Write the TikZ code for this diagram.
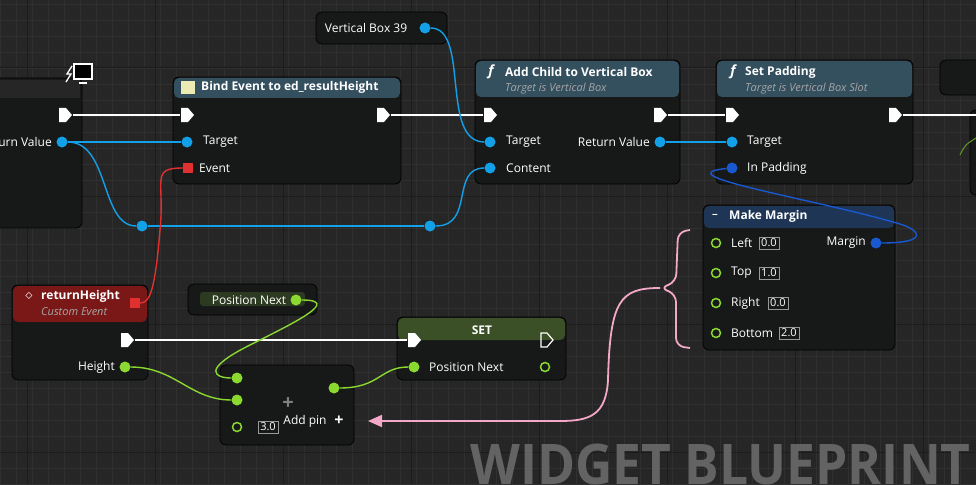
\documentclass[tikz,border=0pt]{standalone}
\usepackage{fontspec}
\setmainfont{Open Sans}
\usetikzlibrary{arrows.meta,decorations.pathreplacing,calc}
\definecolor{bg}{HTML}{262626}
\definecolor{minor}{HTML}{303030}
\definecolor{major}{HTML}{1C1C1C}
\definecolor{nodebg}{HTML}{171918}
\definecolor{wireblue}{HTML}{12A0E8}
\definecolor{darkblue}{HTML}{1858D0}
\definecolor{wgreen}{HTML}{8AD830}
\definecolor{wred}{HTML}{E03030}
\definecolor{pink}{HTML}{F4A8C8}
\definecolor{hdrblue}{HTML}{34505F}
\definecolor{hdrred}{HTML}{7A1818}
\definecolor{hdrgreen}{HTML}{3C5028}
\definecolor{hdrnavy}{HTML}{1E3556}
\begin{document}
\begin{tikzpicture}[x=1pt,y=-1pt,
  font=\fontsize{12}{13}\selectfont,
  bp/.style={fill=nodebg,draw=black,rounded corners=6pt,line width=0.8pt},
  lab/.style={text=white,inner sep=0pt},
  sub/.style={text=gray!70,font=\fontsize{11}{12}\itshape,inner sep=0pt},
  ttl/.style={text=white,font=\fontsize{12}{13}\bfseries,inner sep=0pt},
  bpin/.style={circle,fill=wireblue,inner sep=0pt,minimum size=11pt},
  dpin/.style={circle,fill=darkblue,inner sep=0pt,minimum size=11pt},
  gpin/.style={circle,fill=wgreen,inner sep=0pt,minimum size=11pt},
  hgpin/.style={circle,draw=wgreen,line width=1.5pt,inner sep=0pt,minimum size=9pt},
  rpin/.style={fill=wred,inner sep=0pt,minimum size=10pt},
  val/.style={draw=gray!80,text=white,inner sep=2pt,font=\fontsize{11}{12}\selectfont},
  exw/.style={white,line width=2.5pt},
  bw/.style={wireblue,line width=1.4pt},
  gw/.style={wgreen,line width=1.4pt}]
\useasboundingbox (0,0) rectangle (976,484);
\fill[bg] (0,0) rectangle (976,484);
\foreach \x in {0,16,...,976} \draw[minor,line width=0.8pt] (\x,0) -- (\x,484);
\foreach \y in {4,20,...,484} \draw[minor,line width=0.8pt] (0,\y) -- (976,\y);
\foreach \x in {27,155,...,976} \draw[major,line width=1pt] (\x,0) -- (\x,484);
\foreach \y in {68,196,...,484} \draw[major,line width=1pt] (0,\y) -- (976,\y);
\begin{scope}
\clip (0,0) rectangle (976,484);
\node[anchor=base west,text=white!28!bg,font=\fontsize{56}{56}\bfseries,inner sep=0pt,xscale=0.92] (wm) at (470,484) {WIDGET BLUEPRINT};
\end{scope}

% nodes bodies
\draw[bp] (-10,78) rectangle (82,228);
\fill[black!70!gray] (-10,80) rectangle (80,98);
\draw[white,line width=1.3pt] (72,66) -- (67,74) -- (71,74) -- (66,82);
\draw[white,fill=black,line width=1.3pt] (74,64) rectangle (92,79);
\draw[white,line width=1.5pt] (79,83) -- (87,83);
\draw[bp] (173,77) rectangle (401,184);
\fill[hdrblue,rounded corners=5pt] (174,78) rectangle (400,98);
\draw[bp] (316,12) rectangle (447,44);
\draw[bp] (475,60) rectangle (680,184);
\fill[hdrblue,rounded corners=5pt] (476,61) rectangle (679,97);
\draw[bp] (716,60) rectangle (913,184);
\fill[hdrblue,rounded corners=5pt] (717,61) rectangle (912,97);
\draw[bp] (940,60) rectangle (990,95);
\draw[bp] (970,110) rectangle (990,195);
\draw[bp] (703,205) rectangle (895,350);
\fill[hdrnavy,rounded corners=5pt] (704,206) rectangle (894,228);
\draw[bp] (12,285) rectangle (148,380);
\fill[hdrred,rounded corners=5pt] (13,286) rectangle (147,322);
\draw[bp] (188,284) rectangle (317,315);
\fill[hdrgreen!60!nodebg,rounded corners=3pt] (200,292) rectangle (305,306);
\draw[bp] (397,317) rectangle (566,380);
\fill[hdrgreen,rounded corners=5pt] (398,318) rectangle (565,340);
\draw[bp] (220,365) rectangle (354,445);

% exec pins
\foreach \n/\x/\y in {e1/65/115,e2/187/115,e3/383/115,e4/490/115,e5/660/115,e6/732/115,e7/895/115,e8/127/340,e9/414/340}
  {\fill[white] (\x-6,\y-7) -- (\x+1,\y-7) -- (\x+7,\y) -- (\x+1,\y+7) -- (\x-6,\y+7) -- cycle; \coordinate (\n) at (\x,\y);}
\draw[white,line width=1.2pt] (541,333) -- (547,333) -- (553,340) -- (547,347) -- (541,347) -- cycle;
\coordinate (e10) at (547,340);

% data pins
\node[bpin] (rv) at (62,142) {};
\node[bpin] (bt) at (187,142) {};
\node[rpin] (bev) at (188,168) {};
\node[bpin] (vb) at (425,28) {};
\node[bpin] (at) at (490,142) {};
\node[bpin] (ac) at (490,168) {};
\node[bpin] (arv) at (660,142) {};
\node[bpin] (st) at (732,142) {};
\node[dpin] (sp) at (732,168) {};
\node[dpin] (mm) at (876,243) {};
\node[bpin] (r1) at (142,226) {};
\node[bpin] (r2) at (430,226) {};
\node[rpin] (rdel) at (135,303) {};
\node[gpin] (hgt) at (125,367) {};
\node[gpin] (pn) at (296,300) {};
\node[gpin] (sin) at (414,367) {};
\node[hgpin] (sout) at (545,367) {};
\node[gpin] (a1) at (237,378) {};
\node[gpin] (a2) at (237,400) {};
\node[hgpin] (a3) at (237,427) {};
\node[gpin] (ao) at (334,388) {};
\foreach \n/\y in {ml/243,mt/273,mr/303,mb/333} \node[hgpin] (\n) at (716,\y) {};

% labels
\node[lab,anchor=east] (t1) at (52,142) {urn Value};
\node[ttl,anchor=west] (t2) at (201,87) {Bind Event to ed\_resultHeight};
\fill[gray!40!yellow!40] (181,81) rectangle (195,94);
\node[lab,anchor=west] (t3) at (203,142) {Target};
\node[lab,anchor=west] (t4) at (199,168) {Event};
\node[lab] (t5) at (366,28) {Vertical Box 39};
\node[ttl,anchor=west] (t6) at (505,72) {Add Child to Vertical Box};
\node[sub,anchor=west] (t7) at (505,89) {Target is Vertical Box};
\node[text=white,font=\fontsize{14}{14}\itshape\bfseries,inner sep=0pt] (f1) at (491,72) {f};
\node[lab,anchor=west] (t8) at (506,142) {Target};
\node[lab,anchor=west] (t9) at (506,168) {Content};
\node[lab,anchor=east] (t10) at (650,142) {Return Value};
\node[ttl,anchor=west] (t11) at (745,72) {Set Padding};
\node[sub,anchor=west] (t12) at (745,89) {Target is Vertical Box Slot};
\node[text=white,font=\fontsize{14}{14}\itshape\bfseries,inner sep=0pt] (f2) at (733,72) {f};
\node[lab,anchor=west] (t13) at (747,142) {Target};
\node[lab,anchor=west] (t14) at (747,168) {In Padding};
\node[ttl,anchor=west] (t15) at (729,216) {Make Margin};
\node[lab,font=\bfseries] (mic) at (715,216) {\textminus};
\node[lab,anchor=west] (t16) at (731,243) {Left};
\node[val,anchor=west] (v1) at (759,243) {0.0};
\node[lab,anchor=west] (t17) at (731,273) {Top};
\node[val,anchor=west] (v2) at (759,273) {1.0};
\node[lab,anchor=west] (t18) at (731,303) {Right};
\node[val,anchor=west] (v3) at (768,303) {0.0};
\node[lab,anchor=west] (t19) at (731,333) {Bottom};
\node[val,anchor=west] (v4) at (779,333) {2.0};
\node[lab,anchor=east] (t20) at (866,243) {Margin};
\node[ttl,anchor=west] (t21) at (41,296) {returnHeight};
\node[sub,anchor=west] (t22) at (41,312) {Custom Event};
\node[text=white,font=\fontsize{14}{14}\bfseries,inner sep=0pt] (dic) at (29,296) {$\diamond$};
\node[lab,anchor=east] (t23) at (115,367) {Height};
\node[lab] (t24) at (249,300) {Position Next};
\node[ttl] (t25) at (482,330) {SET};
\node[lab,anchor=west] (t26) at (429,367) {Position Next};
\node[text=gray,font=\fontsize{20}{20}\bfseries,inner sep=0pt] (pl1) at (288,404) {+};
\node[val] (v5) at (268,427) {3.0};
\node[lab] (t27) at (305,421) {Add pin};
\node[text=white,font=\fontsize{16}{16}\bfseries,inner sep=0pt] (pl2) at (339,421) {+};

% exec wires
\draw[exw] ($(e1)+(8,0)$) -- ($(e2)+(-7,0)$);
\draw[exw] ($(e3)+(8,0)$) -- ($(e4)+(-7,0)$);
\draw[exw] ($(e5)+(8,0)$) -- ($(e6)+(-7,0)$);
\draw[exw] ($(e7)+(8,0)$) -- (976,115);
\draw[exw] ($(e8)+(8,0)$) -- ($(e9)+(-7,0)$);

% data wires
\draw[bw] (rv) -- (bt);
\draw[bw] (rv) .. controls (110,142) and (100,226) .. (r1);
\draw[bw] (r1) -- (r2);
\draw[bw] (r2) .. controls (475,226) and (450,168) .. (ac);
\draw[bw] (vb) .. controls (470,28) and (440,142) .. (at);
\draw[bw] (arv) -- (st);
\draw[darkblue,line width=1.4pt] (mm) .. controls (930,243) and (920,230) .. (900,224) .. controls (820,200) and (660,175) .. (sp);
\draw[wred,line width=1.4pt] (bev) .. controls (150,168) and (165,180) .. (160,230) .. controls (155,290) and (150,303) .. (rdel);
\draw[gw] (hgt) .. controls (175,367) and (190,400) .. (a2);
\draw[gw] (pn) .. controls (340,300) and (300,320) .. (250,345) .. controls (200,370) and (215,378) .. (a1);
\draw[gw] (ao) .. controls (380,388) and (380,367) .. (sin);
\draw[wgreen!70!black,line width=1pt] (960,155) .. controls (965,145) .. (976,138);

% brace and pink arrow
\draw[pink,line width=1.8pt,rounded corners=8pt] (690,230) -- (678,232) -- (676,282) -- (660,288) -- (676,294) -- (676,346) -- (690,348);
\draw[pink,line width=1.8pt,-{Triangle[length=14pt,width=12pt]}] (660,288) .. controls (620,288) and (610,300) .. (608,380) .. controls (606,415) and (590,421) .. (560,421) -- (368,421);
\end{tikzpicture}
\end{document}
